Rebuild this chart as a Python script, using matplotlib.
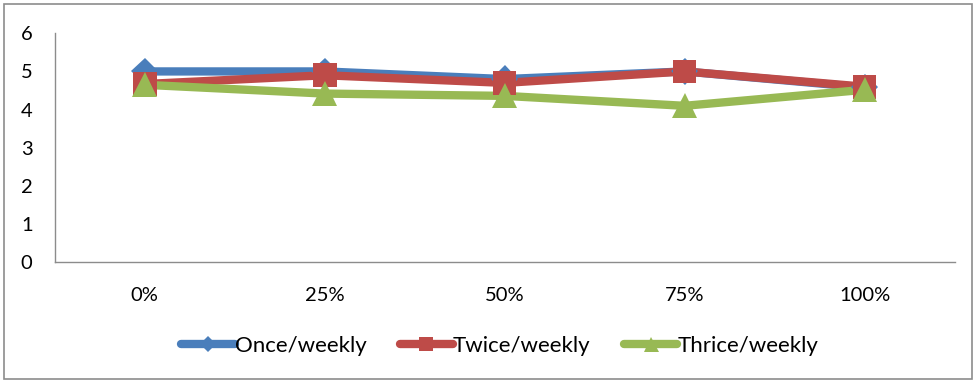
import matplotlib.pyplot as plt
import matplotlib.patheffects as pe
from matplotlib.patches import Rectangle

plt.rcParams['font.family'] = ['Lato', 'DejaVu Sans']

categories = ["0%", "25%", "50%", "75%", "100%"]
once = [5.0, 5.0, 4.8, 5.0, 4.58]
twice = [4.67, 4.9, 4.7, 5.0, 4.6]
thrice = [4.65, 4.42, 4.36, 4.1, 4.52]

series = [
    ("Once/weekly", once, "#4a7ebb", "D", 14),
    ("Twice/weekly", twice, "#be4b48", "s", 17),
    ("Thrice/weekly", thrice, "#98b954", "^", 18),
]

fig = plt.figure(figsize=(9.78, 3.82), dpi=100)
ax = fig.add_axes([0.056, 0.313, 0.92, 0.6])

x = list(range(len(categories)))
shadow = [pe.SimpleLineShadow(offset=(1.5, -2.5), shadow_color="gray", alpha=0.3), pe.Normal()]
for label, vals, color, marker, ms in series:
    ax.plot(x, vals, color=color, lw=6, solid_capstyle="round", zorder=2)
    ax.plot(x, vals, color=color, ls="none", marker=marker, markersize=ms,
            markeredgewidth=0, path_effects=shadow, zorder=3)
    # legend handle: line with a small marker
    ax.plot([], [], color=color, lw=6, marker=marker, markersize=ms * 0.6,
            markeredgewidth=0, solid_capstyle="round", label=label)

ax.set_xlim(-0.5, len(categories) - 0.5)
ax.set_ylim(0, 6)
ax.set_yticks(range(0, 7))
ax.set_xticks(x)
ax.set_xticklabels(categories)
ax.tick_params(axis="both", length=0, labelsize=14.5, colors="black")
ax.tick_params(axis="y", pad=16)
ax.tick_params(axis="x", pad=18)
for s in ["top", "right"]:
    ax.spines[s].set_visible(False)
for s in ["left", "bottom"]:
    ax.spines[s].set_color("#8c8c8c")
    ax.spines[s].set_linewidth(1)

fig.legend(loc="center", bbox_to_anchor=(0.511, 0.095), ncol=3, frameon=False,
           fontsize=16, handlelength=2.4, handletextpad=0.0, columnspacing=1.5)

# outer chart border
fig.patches.append(Rectangle((0.004, 0.008), 0.99, 0.982, transform=fig.transFigure,
                             fill=False, edgecolor="#8c8c8c", lw=1.2))

fig.savefig("out.png", dpi=100)
